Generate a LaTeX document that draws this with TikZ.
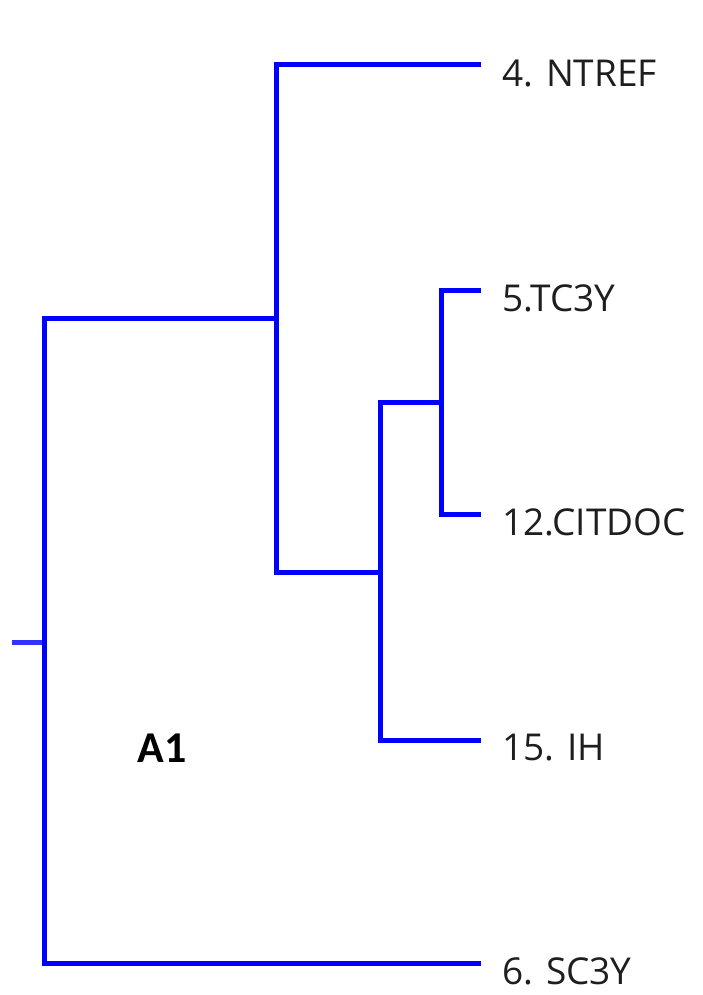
\documentclass[tikz,border=0pt]{standalone}
\usepackage{fontspec}
\setmainfont{Open Sans}
\newfontfamily\boldlabel{Carlito}
\usepackage{tikz}
\usetikzlibrary{positioning}
\definecolor{treeblue}{RGB}{0,0,255}
\definecolor{labelgray}{RGB}{30,30,30}

\begin{document}
\begin{tikzpicture}[x=1pt,y=-1pt,branch/.style={draw=treeblue,line width=5pt,line cap=rect},stub/.style={draw=treeblue!80,line width=5pt},leaf/.style={anchor=west,inner sep=0pt,text=labelgray,font=\fontsize{37}{37}\selectfont}]
\def\xleaf{478};
\def\dx{24};
\def\dy{8};

\useasboundingbox (0,0) rectangle (702,995);

% junctions
\coordinate (R) at (12,642);
\coordinate (J1) at (44,642);
\coordinate (J2) at (276,318);
\coordinate (J3) at (380,572);
\coordinate (J4) at (441,402);

% leaf ends
\coordinate (E4) at (\xleaf,65);
\coordinate (E5) at (\xleaf,290);
\coordinate (E12) at (\xleaf,514);
\coordinate (E15) at (\xleaf,740);
\coordinate (E6) at (\xleaf,963);

\node[leaf] (L4) at ([shift={(\dx,\dy)}]E4) {4. NTREF};
\node[leaf] (L5) at ([shift={(\dx,\dy)}]E5) {5.TC3Y};
\node[leaf] (L12) at ([shift={(\dx,\dy)}]E12) {12.CITDOC};
\node[leaf] (L15) at ([shift={(\dx,\dy)}]E15) {15. IH};
\node[leaf] (L6) at ([shift={(\dx,\dy)}]E6) {6. SC3Y};

\node[font=\boldlabel\bfseries\fontsize{44}{44}\selectfont] (A1) at (162,748) {A1};

\draw[stub] (R) -- (J1);
\draw[branch] (J1) |- (J2);
\draw[branch] (J1) |- (E6);
\draw[branch] (J2) |- (E4);
\draw[branch] (J2) |- (J3);
\draw[branch] (J3) |- (J4);
\draw[branch] (J3) |- (E15);
\draw[branch] (J4) |- (E5);
\draw[branch] (J4) |- (E12);
\end{tikzpicture}
\end{document}
